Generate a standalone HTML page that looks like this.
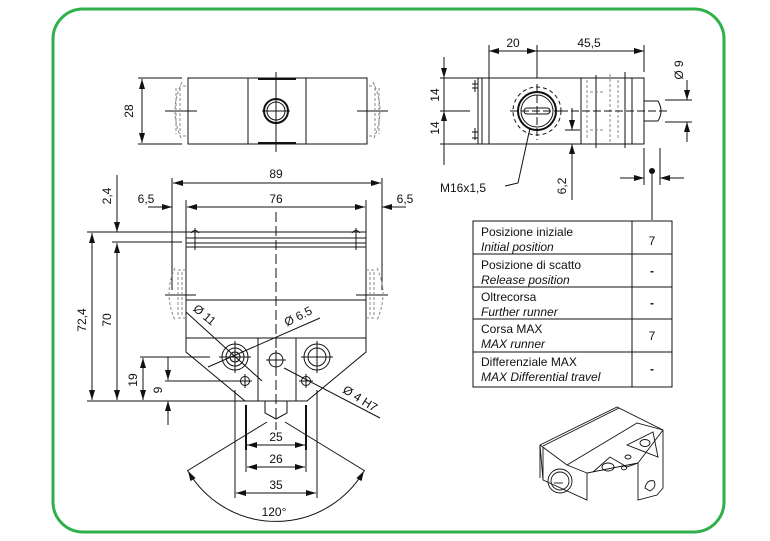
<!DOCTYPE html>
<html><head><meta charset="utf-8"><style>
html,body{margin:0;padding:0;background:#fff;}
svg{display:block;}
text{font-family:"Liberation Sans",Arial,sans-serif;fill:#111;}
</style></head><body>
<svg width="770" height="541" viewBox="0 0 770 541" xmlns="http://www.w3.org/2000/svg">
<defs>
<marker id="a" viewBox="0 0 10 6" refX="10" refY="3" markerWidth="10" markerHeight="6" orient="auto-start-reverse" markerUnits="userSpaceOnUse"><path d="M0,0L10,3L0,6z" fill="#111"/></marker>
</defs>
<rect x="53" y="9" width="671" height="523" rx="30" fill="none" stroke="#2eb14a" stroke-width="3"/>
<g stroke="#111" stroke-width="1" fill="none">
<!-- top-left view -->
<rect x="188" y="78" width="179" height="66"/>
<line x1="248" y1="78" x2="248" y2="144"/><line x1="306" y1="78" x2="306" y2="144"/>
<line x1="258" y1="79" x2="296" y2="79" stroke-width="2"/><line x1="258" y1="143" x2="296" y2="143" stroke-width="2"/>
<circle cx="276" cy="111" r="12" stroke-width="2"/><circle cx="276" cy="111" r="9"/>
<line x1="276" y1="72" x2="276" y2="152"/><line x1="262" y1="111" x2="290" y2="111"/>
<line x1="165" y1="111" x2="197" y2="111"/><line x1="357" y1="111" x2="388" y2="111"/>
<g stroke="#888" stroke-dasharray="3,2"><path d="M186,86 h-6 M186,136 h-6 M180,88 v46 M176,88 v46 M182,82 q-14,29 0,58"/><path d="M369,86 h6 M369,136 h6 M375,88 v46 M379,88 v46 M373,82 q14,29 0,58"/></g>
<line x1="138" y1="78" x2="182" y2="78"/><line x1="138" y1="144" x2="182" y2="144"/>
<line x1="142" y1="79" x2="142" y2="143" marker-start="url(#a)" marker-end="url(#a)"/>
<!-- right top view -->
<rect x="489" y="78" width="155" height="66"/>
<path d="M478,78 h11 v66 h-11 z M482,78 v66"/>
<path d="M472,84 h6 M472,88 h6 M475,80 v12 M472,132 h6 M472,138 h6 M475,128 v12"/>
<circle cx="537" cy="111" r="19" stroke-width="2"/><circle cx="537" cy="111" r="16"/>
<circle cx="537" cy="111" r="24" stroke-dasharray="4,3"/>
<rect x="524" y="108" width="26" height="6" rx="3"/>
<line x1="510" y1="111" x2="565" y2="111" stroke-dasharray="8,3"/><line x1="537" y1="84" x2="537" y2="140" stroke-dasharray="8,3"/>
<line x1="537" y1="45" x2="537" y2="78"/>
<line x1="581" y1="78" x2="581" y2="144"/><line x1="596" y1="75" x2="596" y2="148"/><line x1="625" y1="72" x2="625" y2="148"/><line x1="632" y1="78" x2="632" y2="144"/>
<g stroke="#888" stroke-dasharray="3,2"><path d="M587,80 v60 M610,74 v70 M618,80 v60 M590,92 h14 M590,130 h14"/></g>
<path d="M644,101 h14 q6,10 0,20 h-14"/>
<line x1="560" y1="111" x2="670" y2="111" stroke-dasharray="8,3"/>
<line x1="489" y1="45" x2="489" y2="78"/><line x1="644" y1="45" x2="644" y2="72"/>
<line x1="489" y1="51" x2="537" y2="51" marker-start="url(#a)" marker-end="url(#a)"/>
<line x1="537" y1="51" x2="644" y2="51" marker-end="url(#a)"/>
<line x1="440" y1="78" x2="478" y2="78"/><line x1="440" y1="144" x2="478" y2="144"/><line x1="440" y1="111" x2="470" y2="111"/>
<line x1="444" y1="57" x2="444" y2="78" marker-end="url(#a)"/><line x1="444" y1="111" x2="444" y2="165" marker-start="url(#a)"/><line x1="444" y1="111" x2="444" y2="78"/>
<line x1="665" y1="100" x2="692" y2="100"/><line x1="665" y1="122" x2="692" y2="122"/>
<line x1="687" y1="80" x2="687" y2="100" marker-end="url(#a)"/><line x1="687" y1="122" x2="687" y2="142" marker-start="url(#a)"/>
<line x1="572" y1="108" x2="572" y2="130" marker-end="url(#a)"/><line x1="572" y1="144" x2="572" y2="200" marker-start="url(#a)"/>
<line x1="565" y1="130" x2="580" y2="130"/>
<path d="M530,128 L518,183 L505,186"/>
<line x1="644" y1="148" x2="644" y2="185"/><line x1="660" y1="148" x2="660" y2="185"/>
<line x1="620" y1="178" x2="644" y2="178" marker-end="url(#a)"/><line x1="684" y1="178" x2="660" y2="178" marker-end="url(#a)"/>
<line x1="652" y1="171" x2="652" y2="220"/>
<!-- table -->
<rect x="473" y="221" width="199" height="166"/>
<line x1="632" y1="221" x2="632" y2="387"/>
<line x1="473" y1="254" x2="672" y2="254"/><line x1="473" y1="287" x2="672" y2="287"/><line x1="473" y1="319" x2="672" y2="319"/><line x1="473" y1="352" x2="672" y2="352"/>
<!-- front view -->
<line x1="172" y1="178" x2="172" y2="290"/><line x1="382" y1="178" x2="382" y2="290"/>
<line x1="173" y1="183" x2="381" y2="183" marker-start="url(#a)" marker-end="url(#a)"/>
<line x1="186" y1="200" x2="186" y2="232"/><line x1="366" y1="200" x2="366" y2="232"/>
<line x1="187" y1="207" x2="365" y2="207" marker-start="url(#a)" marker-end="url(#a)"/>
<line x1="148" y1="207" x2="172" y2="207" marker-end="url(#a)"/><line x1="406" y1="207" x2="382" y2="207" marker-end="url(#a)"/>
<rect x="186" y="232" width="180" height="15"/>
<line x1="186" y1="238" x2="366" y2="238"/><line x1="186" y1="243" x2="366" y2="243"/>
<path d="M191,233 q4,-5 8,0 M352,233 q4,-5 8,0 M195,228 v22 M356,228 v22"/>
<rect x="186" y="247" width="180" height="91"/>
<line x1="186" y1="300" x2="366" y2="300"/>
<line x1="165" y1="295" x2="196" y2="295"/><line x1="356" y1="295" x2="388" y2="295"/>
<g stroke="#888" stroke-dasharray="3,2"><path d="M186,270 h-10 M186,318 h-10 M178,272 v44 M182,272 v44 M175,268 q-12,26 0,52"/><path d="M366,270 h10 M366,318 h10 M374,272 v44 M370,272 v44 M377,268 q12,26 0,52"/></g>
<path d="M186,338 v14 L245,401 H307 L366,352 V338"/>
<path d="M186,338 H258 V401 M296,401 V338 H366"/>
<path d="M265,401 v12 l11,6 l11,-6 v-12"/>
<line x1="276" y1="212" x2="276" y2="430" stroke-dasharray="10,4"/>
<circle cx="235" cy="357" r="13"/><circle cx="235" cy="357" r="9"/><circle cx="235" cy="357" r="5"/>
<circle cx="317" cy="357" r="13"/><circle cx="317" cy="357" r="9"/>
<path d="M219,357 h32 M235,341 v32 M301,357 h32 M317,341 v32"/>
<circle cx="276" cy="360" r="7"/><path d="M266,360 h20 M276,350 v20"/>
<circle cx="245" cy="381" r="4.5"/><path d="M238,381 h14 M245,374 v14"/>
<circle cx="306" cy="381" r="4.5"/><path d="M299,381 h14 M306,374 v14"/>
<!-- left dims -->
<line x1="87" y1="232" x2="186" y2="232"/><line x1="112" y1="242" x2="182" y2="242"/>
<line x1="87" y1="401" x2="245" y2="401"/>
<line x1="140" y1="357" x2="210" y2="357"/><line x1="165" y1="381" x2="238" y2="381"/>
<line x1="92" y1="233" x2="92" y2="400" marker-start="url(#a)" marker-end="url(#a)"/>
<line x1="117" y1="243" x2="117" y2="400" marker-start="url(#a)" marker-end="url(#a)"/>
<line x1="117" y1="175" x2="117" y2="232" marker-end="url(#a)"/>
<line x1="143" y1="358" x2="143" y2="400" marker-start="url(#a)" marker-end="url(#a)"/>
<line x1="168" y1="357" x2="168" y2="380" marker-end="url(#a)"/><line x1="168" y1="425" x2="168" y2="401" marker-end="url(#a)"/>
<!-- leader diagonals -->
<line x1="186" y1="312" x2="262" y2="381"/>
<line x1="320" y1="318" x2="208" y2="367"/>
<line x1="284" y1="368" x2="380" y2="418"/>
<!-- lower dims -->
<line x1="246" y1="405" x2="246" y2="450" stroke-width="2"/><line x1="306" y1="405" x2="306" y2="450" stroke-width="2"/>
<line x1="246" y1="450" x2="246" y2="472"/><line x1="306" y1="450" x2="306" y2="472"/>
<line x1="235" y1="390" x2="235" y2="498"/><line x1="317" y1="390" x2="317" y2="498"/>
<line x1="247" y1="445" x2="305" y2="445" marker-start="url(#a)" marker-end="url(#a)"/>
<line x1="247" y1="467" x2="305" y2="467" marker-start="url(#a)" marker-end="url(#a)"/>
<line x1="236" y1="493" x2="316" y2="493" marker-start="url(#a)" marker-end="url(#a)"/>
<line x1="267" y1="422" x2="187" y2="471"/><line x1="285" y1="422" x2="365" y2="471"/>
<path d="M188,471 A102,102 0 0 0 364,471" marker-start="url(#a)" marker-end="url(#a)"/>
<!-- 3D view -->
<g stroke-width="0.9">
<path d="M540,445 L617,407 L663,430 L663,488 L657,495 L638,500 L638,463 L587,473 L587,500 L543,480 Z"/>
<path d="M543,446 L619,408 M540,445 V478 M543,447 V480"/>
<path d="M567,465 L637,423 L663,430"/>
<path d="M540,445 L567,465 L587,473"/>
<path d="M638,463 L663,430"/>
<path d="M627,445 L653,432 L658,457 Z"/>
<path d="M593,472 L610,457 L627,467 L638,463"/>
<ellipse cx="645" cy="443" rx="5" ry="3.5"/><ellipse cx="608" cy="467" rx="6" ry="4"/>
<ellipse cx="628" cy="457" rx="3" ry="2"/><ellipse cx="624" cy="468" rx="2.5" ry="1.8"/>
<circle cx="560" cy="481" r="12"/><circle cx="560" cy="481" r="9"/><path d="M554,483 h9"/>
<path d="M645,488 q2,-9 9,-7 q3,6 -4,10 z"/>
</g>
</g>
<g fill="#111" stroke="none"><circle cx="652" cy="171" r="3"/></g>
<!-- texts -->
<g font-size="12">
<text x="133" y="111" transform="rotate(-90 133 111)" text-anchor="middle">28</text>
<text x="513" y="47" text-anchor="middle">20</text>
<text x="589" y="47" text-anchor="middle">45,5</text>
<text x="439" y="95" transform="rotate(-90 439 95)" text-anchor="middle">14</text>
<text x="439" y="128" transform="rotate(-90 439 128)" text-anchor="middle">14</text>
<text x="683" y="70" transform="rotate(-90 683 70)" text-anchor="middle">Ø 9</text>
<text x="566" y="186" transform="rotate(-90 566 186)" text-anchor="middle">6,2</text>
<text x="440" y="192">M16x1,5</text>
<text x="276" y="178" text-anchor="middle">89</text>
<text x="276" y="203" text-anchor="middle">76</text>
<text x="146" y="203" text-anchor="middle">6,5</text>
<text x="405" y="203" text-anchor="middle">6,5</text>
<text x="111" y="196" transform="rotate(-90 111 196)" text-anchor="middle">2,4</text>
<text x="86" y="320" transform="rotate(-90 86 320)" text-anchor="middle">72,4</text>
<text x="111" y="320" transform="rotate(-90 111 320)" text-anchor="middle">70</text>
<text x="137" y="380" transform="rotate(-90 137 380)" text-anchor="middle">19</text>
<text x="162" y="390" transform="rotate(-90 162 390)" text-anchor="middle">9</text>
<text x="202" y="318" transform="rotate(40 202 318)" text-anchor="middle">Ø 11</text>
<text x="300" y="320" transform="rotate(-27 300 320)" text-anchor="middle">Ø 6.5</text>
<text x="358" y="402" transform="rotate(32 358 402)" text-anchor="middle">Ø 4 H7</text>
<text x="276" y="441" text-anchor="middle">25</text>
<text x="276" y="463" text-anchor="middle">26</text>
<text x="276" y="489" text-anchor="middle">35</text>
<text x="274" y="516" text-anchor="middle">120°</text>
</g>
<g font-size="12">
<text x="481" y="236">Posizione iniziale</text><text x="481" y="251" font-style="italic">Initial position</text>
<text x="481" y="269">Posizione di scatto</text><text x="481" y="284" font-style="italic">Release position</text>
<text x="481" y="301">Oltrecorsa</text><text x="481" y="316" font-style="italic">Further runner</text>
<text x="481" y="333">Corsa MAX</text><text x="481" y="348" font-style="italic">MAX runner</text>
<text x="481" y="366">Differenziale MAX</text><text x="481" y="381" font-style="italic">MAX Differential travel</text>
<text x="652" y="245" text-anchor="middle">7</text>
<text x="652" y="275" text-anchor="middle" font-weight="bold">-</text>
<text x="652" y="307" text-anchor="middle" font-weight="bold">-</text>
<text x="652" y="340" text-anchor="middle">7</text>
<text x="652" y="373" text-anchor="middle" font-weight="bold">-</text>
</g>
</svg>
</body></html>
